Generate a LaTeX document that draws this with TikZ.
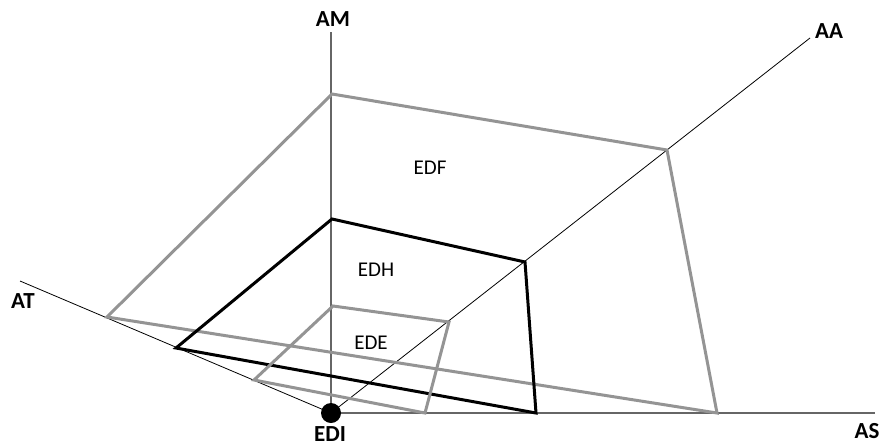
\documentclass[tikz,border=0pt]{standalone}
\usepackage{fontspec}
\setmainfont{Carlito}
\begin{document}
\begin{tikzpicture}[x=1pt,y=-1pt,
  axisg/.style={draw=black!60,line width=1.3pt},
  axisk/.style={draw=black,line width=0.8pt},
  graypoly/.style={draw=black!42,line width=3pt,line join=miter},
  blackpoly/.style={draw=black,line width=3pt,line join=miter},
  axlabel/.style={font=\fontsize{23}{27}\selectfont\bfseries,inner sep=0pt},
  regionlabel/.style={font=\fontsize{21}{25}\selectfont,inner sep=0pt}]
\useasboundingbox (0,0) rectangle (880,447);
% axes
\coordinate (O) at (331,413);
\coordinate (AMend) at (331,32);
\coordinate (ASend) at (875,413);
\coordinate (AAend) at (810,38);
\coordinate (ATend) at (20,281);
\draw[axisg] (O) -- (AMend);
\draw[axisg] (O) -- (ASend);
\draw[axisk] (O) -- (AAend);
\draw[axisk] (O) -- (ATend);
% outer gray (EDF)
\coordinate (f1) at (332,94);
\coordinate (f2) at (667,150);
\coordinate (f3) at (717,413);
\coordinate (f4) at (107,317);
\draw[graypoly] (f1) -- (f2) -- (f3) -- (f4) -- cycle;
% black (EDH)
\coordinate (h1) at (332,219);
\coordinate (h2) at (525,262);
\coordinate (h3) at (536,413);
\coordinate (h4) at (176,348);
\draw[blackpoly] (h1) -- (h2) -- (h3) -- (h4) -- cycle;
% inner gray (EDE)
\coordinate (e1) at (333,306);
\coordinate (e2) at (449,322);
\coordinate (e3) at (425,413);
\coordinate (e4) at (254,380);
\draw[graypoly] (e1) -- (e2) -- (e3) -- (e4) -- cycle;
% origin dot
\fill[black] (O) circle (10);
% labels
\node[axlabel] (lAM) at (333,19) {AM};
\node[axlabel] (lAA) at (829,31) {AA};
\node[axlabel] (lAT) at (23,301) {AT};
\node[axlabel] (lAS) at (867,431) {AS};
\node[axlabel,anchor=base] (lEDI) at (330,441.5) {EDI};
\node[regionlabel] (lEDF) at (430,168) {EDF};
\node[regionlabel] (lEDH) at (376,270) {EDH};
\node[regionlabel] (lEDE) at (371,343) {EDE};
\end{tikzpicture}
\end{document}
